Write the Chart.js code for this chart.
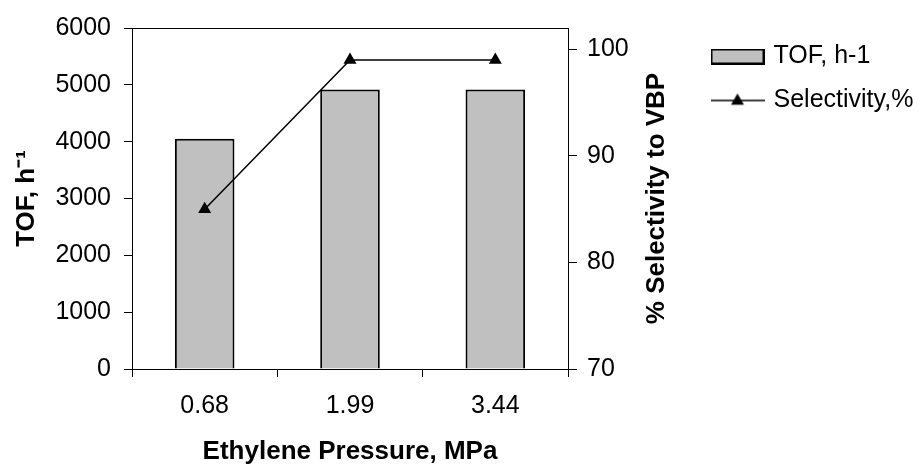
<!DOCTYPE html>
<html>
<head>
<meta charset="utf-8">
<script src="https://cdn.jsdelivr.net/npm/chart.js@4/dist/chart.umd.min.js"></script>
<style>
  html, body { margin: 0; padding: 0; background: #fff; }
  #wrap { position: relative; width: 920px; height: 465px; }
</style>
</head>
<body>
<div id="wrap"><canvas id="c"></canvas></div>
<script>
const pressures = ['0.68', '1.99', '3.44'];
const tofValues = [4050, 4920, 4920];
const selectivity = [85, 99, 99];
const tofTicks = [0, 1000, 2000, 3000, 4000, 5000, 6000];
const selTicks = [70, 80, 90, 100];

const FONT = "'Liberation Sans', Arial, sans-serif";

// legend icons, drawn a bit wider than the slot chart.js keeps for them
function barIcon() {
  const c = document.createElement('canvas');
  c.width = 54; c.height = 16;
  const g = c.getContext('2d');
  g.fillStyle = '#c0c0c0';
  g.fillRect(1, 1, 52, 14);
  g.strokeStyle = '#000';
  g.lineWidth = 2;
  g.strokeRect(1, 1, 52, 14);
  return c;
}
function lineIcon() {
  const c = document.createElement('canvas');
  c.width = 54; c.height = 16;
  const g = c.getContext('2d');
  g.strokeStyle = '#000';
  g.lineWidth = 1.5;
  g.beginPath(); g.moveTo(0, 8); g.lineTo(54, 8); g.stroke();
  const r = 7.5, cx = 27, cy = 8.5;
  g.fillStyle = '#000';
  g.beginPath();
  g.moveTo(cx, cy - r);
  g.lineTo(cx + r * Math.sin(2 * Math.PI / 3), cy - r * Math.cos(2 * Math.PI / 3));
  g.lineTo(cx + r * Math.sin(4 * Math.PI / 3), cy - r * Math.cos(4 * Math.PI / 3));
  g.closePath(); g.fill();
  return c;
}
const tofIcon = barIcon();
const selIcon = lineIcon();

// layout caps a side legend at width/6, widen it back after its own fit
const legendWidth = {
  id: 'legendWidth',
  beforeLayout(chart) {
    const lg = chart.legend;
    if (!lg || lg._wideFit) return;
    const fit = Object.getPrototypeOf(lg).fit;
    lg.fit = function () { fit.call(this); this.width = 225; };
    lg._wideFit = true;
  }
};

// right axis title reads bottom-to-top, chart.js would rotate it the other way
const rightTitle = {
  id: 'rightTitle',
  afterDraw(chart) {
    const { ctx, chartArea } = chart;
    ctx.save();
    ctx.translate(657, (chartArea.top + chartArea.bottom) / 2);
    ctx.rotate(-Math.PI / 2);
    ctx.font = 'bold 26px ' + FONT;
    ctx.fillStyle = '#000';
    ctx.textAlign = 'center';
    ctx.textBaseline = 'middle';
    ctx.fillText('% Selectivity to VBP', 0, 0);
    ctx.restore();
  }
};

new Chart(document.getElementById('c'), {
  data: {
    labels: pressures,
    datasets: [
      {
        type: 'bar',
        label: 'TOF, h-1',
        data: tofValues,
        backgroundColor: '#c0c0c0',
        borderColor: '#000',
        borderWidth: 2,
        barPercentage: 0.41,
        categoryPercentage: 1,
        yAxisID: 'y',
        order: 2,
      },
      {
        type: 'line',
        label: 'Selectivity,%',
        data: selectivity,
        borderColor: '#000',
        borderWidth: 1.5,
        backgroundColor: '#000',
        pointStyle: 'triangle',
        pointRadius: 7.5,
        pointBackgroundColor: '#000',
        pointBorderColor: '#000',
        pointBorderWidth: 0,
        tension: 0,
        yAxisID: 'y1',
        order: 1,
      },
    ],
  },
  options: {
    responsive: true,
    maintainAspectRatio: false,
    animation: false,
    layout: { padding: { top: 25, left: 0, right: 0, bottom: 0 } },
    plugins: {
      tooltip: { enabled: false },
      legend: {
        position: 'right',
        align: 'start',
        labels: {
          usePointStyle: true,
          pointStyleWidth: 47,
          boxHeight: 14,
          padding: 19,
          color: '#000',
          font: { family: FONT, size: 25, lineHeight: 1 },
          sort: (a, b) => a.datasetIndex - b.datasetIndex,
          generateLabels(chart) {
            const items = Chart.defaults.plugins.legend.labels.generateLabels(chart);
            items.forEach(it => {
              it.pointStyle = it.datasetIndex === 0 ? tofIcon : selIcon;
            });
            return items;
          },
        },
      },
    },
    scales: {
      x: {
        type: 'category',
        offset: true,
        grid: { drawOnChartArea: false, tickLength: 8, color: '#000', offset: true },
        border: { color: '#000', width: 1 },
        ticks: { color: '#000', padding: 14, font: { family: FONT, size: 25 } },
        title: {
          display: true,
          text: 'Ethylene Pressure, MPa',
          color: '#000',
          padding: 0,
          font: { family: FONT, size: 26, weight: 'bold', lineHeight: 1 },
        },
        afterFit: s => { s.height = 96; },
      },
      y: {
        position: 'left',
        min: 0,
        max: 6000,
        afterBuildTicks: s => { s.ticks = tofTicks.map(v => ({ value: v })); },
        grid: {
          tickLength: 8,
          color: c => (c.tick && c.tick.value === 6000 ? '#000' : 'rgba(0,0,0,0)'),
          tickColor: '#000',
        },
        border: { color: '#000', width: 1 },
        ticks: { color: '#000', padding: 13, font: { family: FONT, size: 25 }, callback: v => String(v) },
        title: {
          display: true,
          text: 'TOF, h\u207B\u00B9',
          color: '#000',
          padding: { top: 11, bottom: 0 },
          font: { family: FONT, size: 26, weight: 'bold' },
        },
        afterFit: s => { s.width = 132; },
      },
      y1: {
        position: 'right',
        min: 70,
        max: 102,
        afterBuildTicks: s => { s.ticks = selTicks.map(v => ({ value: v })); },
        grid: { drawOnChartArea: false, tickLength: 9, color: '#000' },
        border: { color: '#000', width: 1 },
        ticks: { color: '#000', padding: 10, font: { family: FONT, size: 25 }, callback: v => String(v) },
        afterFit: s => { s.width = 127; },
      },
    },
  },
  plugins: [legendWidth, rightTitle],
});
</script>
</body>
</html>
